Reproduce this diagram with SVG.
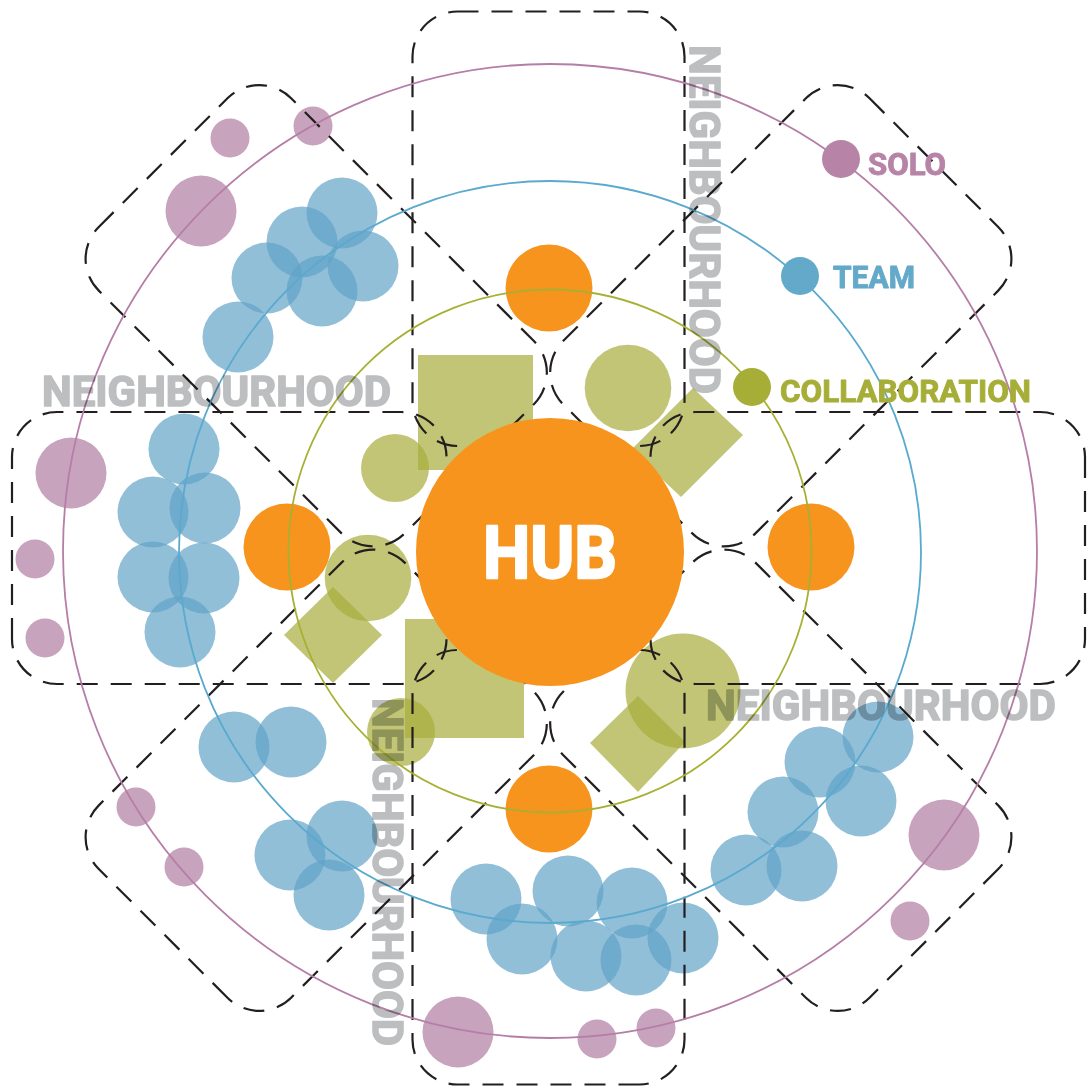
<svg xmlns="http://www.w3.org/2000/svg" width="1089" height="1091" viewBox="0 0 1089 1091">
<style>
.bg{fill:#ffffff}
.p{fill:#c8a3be}
.b{fill:#60a2c6;fill-opacity:0.69}
.g{fill:#a6ad3a;fill-opacity:0.7}
.o{fill:#f7941d}
.arm{fill:none;stroke:#231f20;stroke-width:2.2;stroke-dasharray:21 13}
.ring{fill:none;stroke-width:1.8}
.nb{font-family:Roboto,"Liberation Sans",sans-serif;font-weight:bold;font-size:43px;fill:#bcbec0;stroke:#bcbec0;stroke-width:1.6;stroke-linejoin:round;mix-blend-mode:multiply}
.lg{font-family:Roboto,"Liberation Sans",sans-serif;font-weight:bold;font-size:31px;stroke-width:0.9;stroke-linejoin:round}
</style>
<defs>
<rect id="oarm" x="412.5" y="11.5" width="272" height="434.5" rx="45"/>
<rect id="darm" x="412.5" y="3" width="272" height="433" rx="45"/>
</defs>
<rect class="bg" x="0" y="0" width="1089" height="1091"/>
<g id="solo-circles">
<circle class="p" cx="230" cy="138" r="19.5"/>
<circle class="p" cx="313" cy="126" r="19.5"/>
<circle class="p" cx="201" cy="211" r="35.5"/>
<circle class="p" cx="71" cy="473" r="35.5"/>
<circle class="p" cx="35" cy="559" r="19.5"/>
<circle class="p" cx="45" cy="638" r="19.5"/>
<circle class="p" cx="136" cy="807" r="19.5"/>
<circle class="p" cx="184" cy="867" r="19.5"/>
<circle class="p" cx="458" cy="1032" r="35.5"/>
<circle class="p" cx="597" cy="1039" r="19.5"/>
<circle class="p" cx="656" cy="1028" r="19.5"/>
<circle class="p" cx="944" cy="835" r="35.5"/>
<circle class="p" cx="910" cy="921" r="19.5"/>
</g>
<g id="team-circles">
<circle class="b" cx="342" cy="213" r="35.5"/>
<circle class="b" cx="302" cy="242" r="35.5"/>
<circle class="b" cx="363" cy="266" r="35.5"/>
<circle class="b" cx="267" cy="278" r="35.5"/>
<circle class="b" cx="322" cy="291" r="35.5"/>
<circle class="b" cx="238" cy="337" r="35.5"/>
<circle class="b" cx="184" cy="449" r="35.5"/>
<circle class="b" cx="153" cy="512" r="35.5"/>
<circle class="b" cx="205" cy="508" r="35.5"/>
<circle class="b" cx="153" cy="577" r="35.5"/>
<circle class="b" cx="204" cy="578" r="35.5"/>
<circle class="b" cx="180" cy="632" r="35.5"/>
<circle class="b" cx="234" cy="747" r="35.5"/>
<circle class="b" cx="291" cy="742" r="35.5"/>
<circle class="b" cx="290" cy="855" r="35.5"/>
<circle class="b" cx="342" cy="836" r="35.5"/>
<circle class="b" cx="329" cy="895" r="35.5"/>
<circle class="b" cx="486" cy="899" r="35.5"/>
<circle class="b" cx="568" cy="891" r="35.5"/>
<circle class="b" cx="632" cy="903" r="35.5"/>
<circle class="b" cx="522" cy="939" r="35.5"/>
<circle class="b" cx="586" cy="956" r="35.5"/>
<circle class="b" cx="636" cy="960" r="35.5"/>
<circle class="b" cx="683" cy="938" r="35.5"/>
<circle class="b" cx="878" cy="737" r="35.5"/>
<circle class="b" cx="820" cy="762" r="35.5"/>
<circle class="b" cx="861" cy="801" r="35.5"/>
<circle class="b" cx="783" cy="812" r="35.5"/>
<circle class="b" cx="746" cy="870" r="35.5"/>
<circle class="b" cx="802" cy="866" r="35.5"/>
</g>
<g id="collaboration-shapes">
<rect class="g" x="418" y="355" width="115" height="115"/>
<circle class="g" cx="628" cy="388" r="43.3"/>
<circle class="g" cx="395" cy="468" r="34"/>
<polygon class="g" points="693,388 743,435 681,497 631,450"/>
<circle class="g" cx="368" cy="578" r="43.3"/>
<polygon class="g" points="333,587 382,635 333,683 284,635"/>
<rect class="g" x="405" y="619" width="119" height="119"/>
<circle class="g" cx="401" cy="732" r="34"/>
<circle class="g" cx="683" cy="691" r="57.5"/>
<polygon class="g" points="638,696 685,742 638,792 590,743"/>
</g>
<g id="connectors">
<use href="#oarm" class="arm"/>
<use href="#oarm" class="arm" transform="rotate(90 548.5 548)"/>
<use href="#oarm" class="arm" transform="rotate(180 548.5 548)"/>
<use href="#oarm" class="arm" transform="rotate(270 548.5 548)"/>
<use href="#darm" class="arm" transform="rotate(45 548.5 548)"/>
<use href="#darm" class="arm" transform="rotate(135 548.5 548)"/>
<use href="#darm" class="arm" transform="rotate(225 548.5 548)"/>
<use href="#darm" class="arm" transform="rotate(315 548.5 548)"/>
</g>
<g id="hub-nodes">
<circle class="o" cx="549" cy="288" r="43.5"/>
<circle class="o" cx="549" cy="809" r="43.5"/>
<circle class="o" cx="287" cy="547" r="43.5"/>
<circle class="o" cx="811" cy="547" r="43.5"/>
</g>
<g id="rings">
<circle class="ring" cx="550" cy="551" r="487" stroke="#b57ea7"/>
<circle class="ring" cx="550" cy="552" r="371" stroke="#5aa9cf"/>
<circle class="ring" cx="550" cy="551" r="261.5" stroke="#a7b033"/>
</g>
<g id="hub">
<circle class="o" cx="550" cy="552" r="134"/>
<text x="550" y="578" text-anchor="middle" font-family="Roboto,'Liberation Sans',sans-serif" font-weight="bold" font-size="72" fill="#ffffff" stroke="#ffffff" stroke-width="2.4" stroke-linejoin="round" textLength="134" lengthAdjust="spacingAndGlyphs">HUB</text>
</g>
<g id="neighbourhood-labels">
<text class="nb" x="42" y="406" textLength="349" lengthAdjust="spacingAndGlyphs">NEIGHBOURHOOD</text>
<text class="nb" x="706" y="720" textLength="350" lengthAdjust="spacingAndGlyphs">NEIGHBOURHOOD</text>
<text class="nb" transform="translate(690 45) rotate(90)" x="0" y="0" textLength="349" lengthAdjust="spacingAndGlyphs">NEIGHBOURHOOD</text>
<text class="nb" transform="translate(373 698) rotate(90)" x="0" y="0" textLength="348" lengthAdjust="spacingAndGlyphs">NEIGHBOURHOOD</text>
</g>
<g id="legend-solo">
<circle cx="841" cy="159" r="19" fill="#b784a7"/>
<text class="lg" x="868" y="175" fill="#b784a7" stroke="#b784a7" textLength="78" lengthAdjust="spacingAndGlyphs">SOLO</text>
</g>
<g id="legend-team">
<circle cx="800" cy="276" r="19" fill="#63a9c9"/>
<text class="lg" x="833" y="288" fill="#63a9c9" stroke="#63a9c9" textLength="82" lengthAdjust="spacingAndGlyphs">TEAM</text>
</g>
<g id="legend-collaboration">
<circle cx="752" cy="387" r="19" fill="#a6ae37"/>
<text class="lg" x="780" y="402" fill="#a6ae37" stroke="#a6ae37" textLength="251" lengthAdjust="spacingAndGlyphs">COLLABORATION</text>
</g>
</svg>
